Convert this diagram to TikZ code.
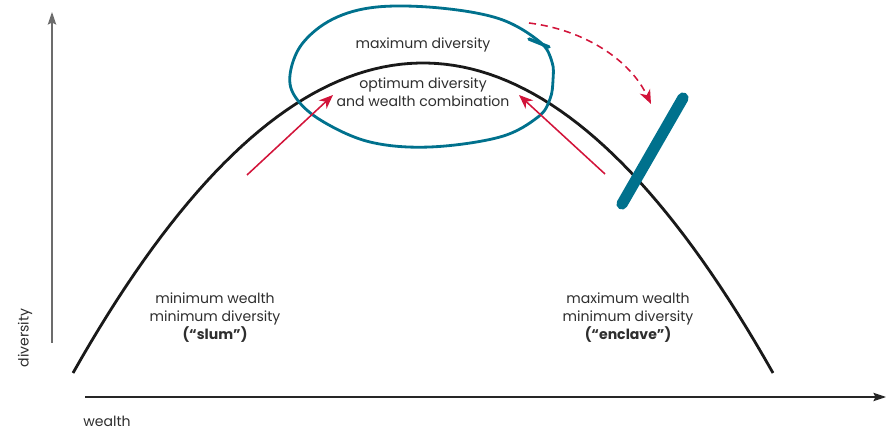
\documentclass[tikz,border=0pt]{standalone}
\usepackage{fontspec}
\setmainfont{Poppins}
\usepackage{xcolor}
\usepackage{tikz}
\usetikzlibrary{arrows.meta,calc}

\definecolor{loopblue}{HTML}{00718D}
\definecolor{arrred}{HTML}{D2143A}
\definecolor{txtgray}{HTML}{2E2E2E}

\tikzset{
  lbl/.style={align=center,text=txtgray,font=\fontsize{10}{12.8}\selectfont},
  redarr/.style={draw=arrred,line width=1.1pt,-{Stealth[length=10pt,width=8pt,inset=3pt]}},
}

\begin{document}
\begin{tikzpicture}[x=0.025cm,y=-0.025cm]
  \useasboundingbox (0,0) rectangle (893,431);
  % axes
  \coordinate (yfoot) at (52,343);
  \coordinate (ytop)  at (52,12);
  \coordinate (xfoot) at (85,397);
  \coordinate (xtop)  at (886,397);
  \draw[gray!85!black,line width=1pt,-{Stealth[length=9pt,width=6pt,inset=1.5pt]}] (yfoot)--(ytop);
  \draw[black!85,line width=1pt,-{Stealth[length=9pt,width=6pt,inset=1.5pt]}] (xfoot)--(xtop);
  \node[lbl,rotate=90] (ylab) at (25,338) {diversity};
  \node[lbl] (xlab) at (107,421) {wealth};
  % curve
  \draw[black!90,line width=2pt] plot[domain=73:773,samples=80]
    (\x,{63+310*((\x-423)/350)^2});
  % loop round the top
  \draw[loopblue,line width=2pt] plot[smooth cycle,tension=0.6] coordinates {
    (290,75) (302,44) (333,19) (377,7) (440,8) (500,19) (540,42)
    (552,62) (553,80) (550,99) (538,117) (500,137) (430,147)
    (370,142) (322,121) (296,98)};
  \draw[loopblue,line width=2.4pt,line cap=round] (529,39)--(549,47);
  % enclave bar
  \coordinate (barlo) at (622,204);
  \coordinate (barhi) at (683,98);
  \draw[loopblue,line width=8pt,line cap=round] (barlo)--(barhi);
  % red arrows
  \coordinate (lfoot) at (247,175);
  \coordinate (ltip)  at (333,95);
  \coordinate (rfoot) at (605,174);
  \coordinate (rtip)  at (519,95);
  \coordinate (dfoot) at (529,23);
  \coordinate (dtip)  at (651,104);
  \draw[redarr] (lfoot)--(ltip);
  \draw[redarr] (rfoot)--(rtip);
  \draw[redarr,dash pattern=on 5pt off 3.5pt] (dfoot) .. controls (585,30) and (630,60) .. (dtip);
  % labels
  \node[lbl] (maxdiv) at (423,45) {maximum diversity};
  \node[lbl] (optdiv) at (423,92) {optimum diversity\\and wealth combination};
  \node[lbl] (slum) at (215,318) {minimum wealth\\minimum diversity\\\textbf{(“slum”)}};
  \node[lbl] (enclave) at (628,318) {maximum wealth\\minimum diversity\\\textbf{(“enclave”)}};
\end{tikzpicture}
\end{document}
